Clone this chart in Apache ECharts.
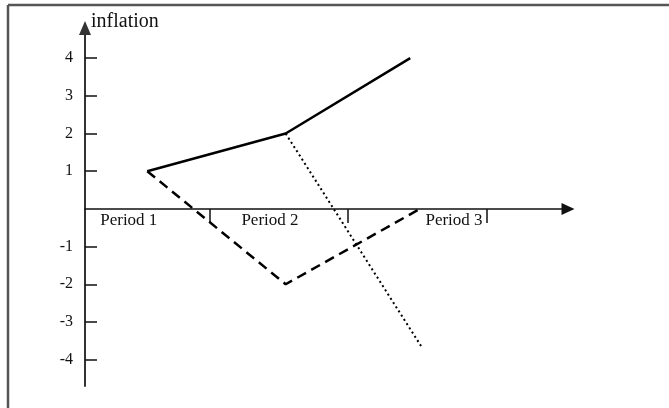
<!DOCTYPE html>
<html>
<head>
<meta charset="utf-8">
<script src="https://cdn.jsdelivr.net/npm/echarts@6/dist/echarts.min.js"></script>
<style>
  html, body { margin: 0; padding: 0; background: #fff; }
  #chart { width: 669px; height: 408px; }
</style>
</head>
<body>
<div id="chart"></div>
<script>
// x is measured in periods, y is inflation
const periods = ["Period 1", "Period 2", "Period 3"];
const yTicks = [-4, -3, -2, -1, 1, 2, 3, 4];
const periodEdges = [1, 2, 3];
const solidPath = [[0.55, 1], [1.55, 2], [2.45, 4]];
const dashedPath = [[0.55, 1], [1.55, -2], [2.52, 0]];
const dottedPath = [[1.55, 2], [2.53, -3.65]];

const chart = echarts.init(document.getElementById("chart"));
const serif = "Liberation Serif, Times New Roman, serif";

// grid: top 28, bottom edge at 386 -> y range 4.8 .. -4.7, zero sits at ~209
const gridTop = 28, gridBottom = 22, yMin = -4.7, yMax = 4.8;
const zeroShift = (408 - gridBottom - gridTop) * (-yMin) / (yMax - yMin);

const options = {
  animation: false,
  grid: { left: 85, right: 101, top: gridTop, bottom: gridBottom, containLabel: false },
  xAxis: {
    type: "value",
    min: 0.1,
    max: 3.59,
    offset: -zeroShift,
    splitLine: { show: false },
    axisLine: {
      onZero: false,
      symbol: ["none", "triangle"],
      symbolSize: [12, 13],
      lineStyle: { color: "#111", width: 1.5 }
    },
    axisTick: {
      customValues: periodEdges,
      length: 14,
      lineStyle: { color: "#111", width: 1.5 }
    },
    axisLabel: {
      customValues: [0.21, 1.23, 2.56],
      formatter: (v) => periods[Math.floor(v)],
      align: "left",
      verticalAlign: "top",
      margin: 3,
      fontFamily: serif,
      fontSize: 17,
      color: "#111"
    }
  },
  yAxis: {
    type: "value",
    min: yMin,
    max: yMax,
    name: "inflation",
    nameLocation: "end",
    nameGap: 6,
    nameTextStyle: {
      align: "left",
      verticalAlign: "middle",
      padding: [0, 0, 0, 6],
      fontFamily: serif,
      fontSize: 20,
      color: "#111"
    },
    splitLine: { show: false },
    axisLine: {
      onZero: false,
      symbol: ["none", "triangle"],
      symbolSize: [12, 14],
      lineStyle: { color: "#333", width: 2 }
    },
    axisTick: {
      customValues: yTicks,
      inside: true,
      length: 12,
      lineStyle: { color: "#111", width: 1.5 }
    },
    axisLabel: {
      customValues: yTicks,
      margin: 12,
      fontFamily: serif,
      fontSize: 16,
      color: "#111"
    }
  },
  graphic: [
    { type: "line", shape: { x1: 8, y1: 5, x2: 8, y2: 408 }, style: { stroke: "#555", lineWidth: 2.5 } },
    { type: "line", shape: { x1: 8, y1: 5, x2: 669, y2: 5 }, style: { stroke: "#555", lineWidth: 2.5 } }
  ],
  series: [
    {
      name: "solid",
      type: "line",
      data: solidPath,
      symbol: "none",
      lineStyle: { color: "#000", width: 2.5, type: "solid" }
    },
    {
      name: "dashed",
      type: "line",
      data: dashedPath,
      symbol: "none",
      lineStyle: { color: "#000", width: 2.5, type: [10, 6] }
    },
    {
      name: "dotted",
      type: "line",
      data: dottedPath,
      symbol: "none",
      lineStyle: { color: "#000", width: 2, type: [2, 3] }
    }
  ]
};

chart.setOption(options);
</script>
</body>
</html>
